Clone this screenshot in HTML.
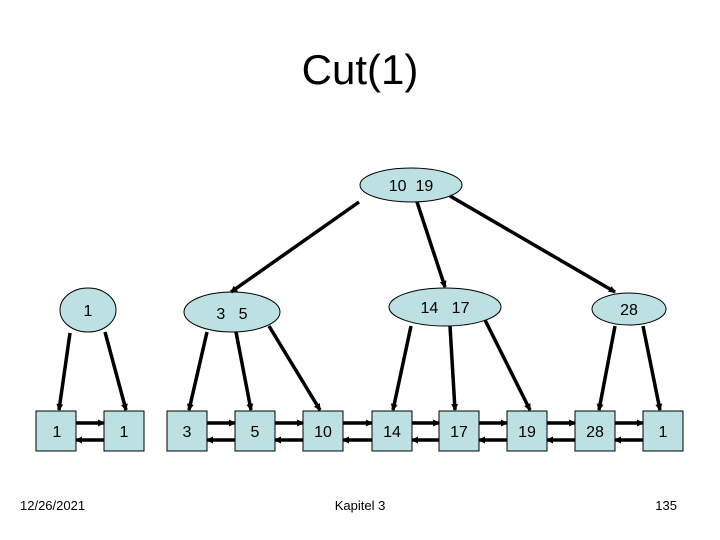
<!DOCTYPE html>
<html><head><style>
body{margin:0;width:720px;height:540px;background:#fff;overflow:hidden}
svg{display:block}
text{font-family:"Liberation Sans",Arial,sans-serif;fill:#000}
</style></head><body>
<svg width="720" height="540" viewBox="0 0 720 540">
<defs><marker id="a" markerWidth="8" markerHeight="8" refX="6" refY="4" orient="auto" markerUnits="userSpaceOnUse"><path d="M0,0.5 L7,4 L0,7.5z" fill="#000"/></marker></defs>
<text x="360" y="84" font-size="42" text-anchor="middle">Cut(1)</text>
<g fill="#bde0e3" stroke="#000" stroke-width="1">
<ellipse cx="88" cy="310" rx="28" ry="22"/>
<ellipse cx="232" cy="312" rx="48" ry="20"/>
<ellipse cx="411" cy="185" rx="51" ry="17"/>
<ellipse cx="445" cy="307" rx="56" ry="19"/>
<ellipse cx="629" cy="309" rx="37" ry="16"/>
<rect x="36" y="411" width="40" height="40"/>
<rect x="104" y="411" width="40" height="40"/>
<rect x="167" y="411" width="40" height="40"/>
<rect x="235" y="411" width="40" height="40"/>
<rect x="303" y="411" width="40" height="40"/>
<rect x="372" y="411" width="40" height="40"/>
<rect x="439" y="411" width="40" height="40"/>
<rect x="507" y="411" width="40" height="40"/>
<rect x="575" y="411" width="40" height="40"/>
<rect x="643" y="411" width="40" height="40"/>
</g>
<g stroke="#000" stroke-width="3.5" marker-end="url(#a)">
<line x1="70" y1="333" x2="59" y2="410"/>
<line x1="105" y1="332" x2="126" y2="410"/>
<line x1="207" y1="332" x2="189" y2="410"/>
<line x1="236" y1="332" x2="251" y2="410"/>
<line x1="269" y1="326" x2="320" y2="410"/>
<line x1="359" y1="202" x2="231" y2="292"/>
<line x1="417" y1="202" x2="445" y2="287"/>
<line x1="450" y1="196" x2="615" y2="292"/>
<line x1="411" y1="326" x2="393" y2="410"/>
<line x1="450" y1="326" x2="455" y2="410"/>
<line x1="485" y1="320" x2="530" y2="410"/>
<line x1="615" y1="326" x2="599" y2="410"/>
<line x1="643" y1="326" x2="660" y2="410"/>
<line x1="76" y1="423" x2="104" y2="423"/><line x1="104" y1="440" x2="76" y2="440"/>
<line x1="207" y1="423" x2="235" y2="423"/><line x1="235" y1="440" x2="207" y2="440"/>
<line x1="275" y1="423" x2="303" y2="423"/><line x1="303" y1="440" x2="275" y2="440"/>
<line x1="343" y1="423" x2="372" y2="423"/><line x1="372" y1="440" x2="343" y2="440"/>
<line x1="412" y1="423" x2="439" y2="423"/><line x1="439" y1="440" x2="412" y2="440"/>
<line x1="479" y1="423" x2="507" y2="423"/><line x1="507" y1="440" x2="479" y2="440"/>
<line x1="547" y1="423" x2="575" y2="423"/><line x1="575" y1="440" x2="547" y2="440"/>
<line x1="615" y1="423" x2="643" y2="423"/><line x1="643" y1="440" x2="615" y2="440"/>
</g>
<g font-size="16" text-anchor="middle">
<text x="88" y="316">1</text>
<text x="232" y="319">3&#160;&#160;&#160;5</text>
<text x="411" y="191">10&#160;&#160;19</text>
<text x="445" y="313">14&#160;&#160;&#160;17</text>
<text x="629" y="315">28</text>
<text x="57" y="437">1</text>
<text x="124" y="437">1</text>
<text x="187" y="437">3</text>
<text x="255" y="437">5</text>
<text x="323" y="437">10</text>
<text x="392" y="437">14</text>
<text x="459" y="437">17</text>
<text x="527" y="437">19</text>
<text x="595" y="437">28</text>
<text x="663" y="437">1</text>
</g>
<g font-size="13">
<text x="20" y="510">12/26/2021</text>
<text x="360" y="510" text-anchor="middle">Kapitel 3</text>
<text x="677" y="510" text-anchor="end">135</text>
</g>
</svg>
</body></html>
